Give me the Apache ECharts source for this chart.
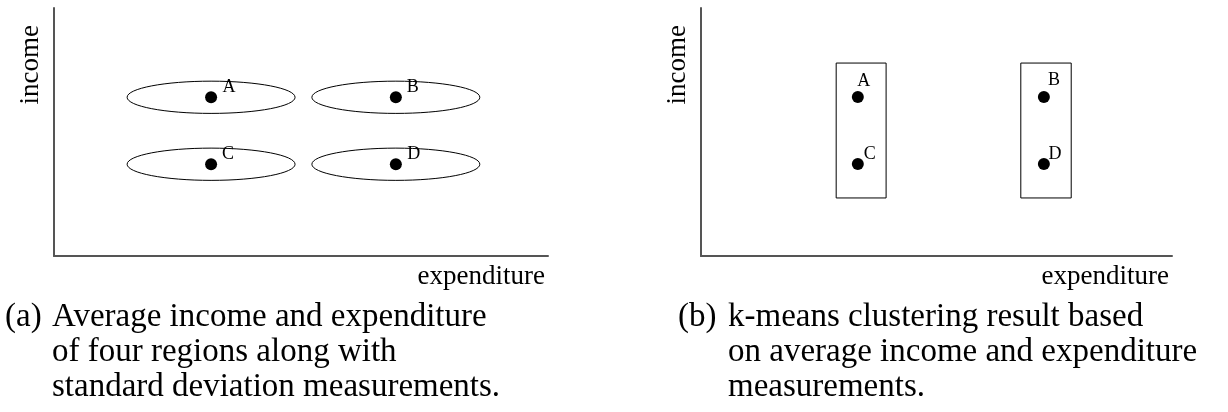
<!DOCTYPE html>
<html>
<head>
<meta charset="utf-8">
<style>
  html, body { margin: 0; padding: 0; background: #fff; }
  #chart { width: 1228px; height: 412px; }
</style>
<script src="https://cdn.jsdelivr.net/npm/echarts@6/dist/echarts.min.js"></script>
</head>
<body>
<div id="chart"></div>
<script>
// ---- data ----
const regionNames = ['A', 'B', 'C', 'D'];
// panel (a): average expenditure / income of each region
const expenditureA = [3.18, 6.92, 3.18, 6.92];
const incomeA      = [6.40, 6.40, 3.70, 3.70];
// standard deviation (semi-axes of ellipses) for expenditure / income
const sdExpenditure = [1.70, 1.70, 1.70, 1.70];
const sdIncome      = [0.65, 0.65, 0.65, 0.65];
// panel (b): same regions
const expenditureB = [3.33, 7.28, 3.33, 7.28];
const incomeB      = [6.41, 6.41, 3.71, 3.71];
// k-means clusters: [expMin, expMax, incMin, incMax]
const clusterNames = ['cluster 1', 'cluster 2'];
const clusterExpMin = [2.87, 6.79];
const clusterExpMax = [3.93, 7.86];
const clusterIncMin = [2.34, 2.34];
const clusterIncMax = [7.78, 7.78];
// axis texts
const xAxisName = 'expenditure';
const yAxisName = 'income';
const axisMin = 0, axisMax = 10;
// captions
const captionA = ['(a)', 'Average income and expenditure', 'of four regions along with', 'standard deviation measurements.'];
const captionB = ['(b)', 'k-means clustering result based', 'on average income and expenditure', 'measurements.'];

// ---- styles ----
const serif = "'Liberation Serif', 'Times New Roman', serif";
const axisColor = '#555';
const labelOffsetsA = [[18, -10], [17, -10], [17, -10], [18, -10]];
const labelOffsetsB = [[6, -16], [10, -17], [12, -10], [11, -10]];

function makeAxis(type, gridIndex) {
  const isX = type === 'x';
  return {
    type: 'value', gridIndex, min: axisMin, max: axisMax,
    name: isX ? xAxisName : yAxisName,
    nameLocation: 'end',
    nameGap: isX ? -3 : -17,
    nameRotate: isX ? 0 : 90,
    nameTextStyle: isX
      ? { fontFamily: serif, fontSize: 27, color: '#000', align: 'right', verticalAlign: 'top', padding: [7, 0, 0, 0] }
      : { fontFamily: serif, fontSize: 27, color: '#000', align: 'right', verticalAlign: 'bottom', padding: [0, 0, 10, 0] },
    axisLine: { show: true, onZero: false, lineStyle: { color: axisColor, width: 2 } },
    axisTick: { show: false },
    axisLabel: { show: false },
    splitLine: { show: false }
  };
}

function pointData(xs, ys, offsets) {
  return regionNames.map((n, i) => ({
    name: n,
    value: [xs[i], ys[i]],
    label: { offset: offsets[i] }
  }));
}

const pointLabel = {
  show: true, position: 'inside', formatter: '{b}',
  fontFamily: serif, fontSize: 18, color: '#000'
};

const option = {
  animation: false,
  backgroundColor: '#fff',
  grid: [
    { left: 54, top: 8, width: 494, height: 248 },
    { left: 701, top: 8, width: 471, height: 248 }
  ],
  xAxis: [makeAxis('x', 0), makeAxis('x', 1)],
  yAxis: [makeAxis('y', 0), makeAxis('y', 1)],
  series: [
    {
      type: 'custom', xAxisIndex: 0, yAxisIndex: 0,
      data: regionNames.map((n, i) => [expenditureA[i], incomeA[i], sdExpenditure[i], sdIncome[i]]),
      renderItem: function (params, api) {
        const c = api.coord([api.value(0), api.value(1)]);
        const s = api.size([api.value(2), api.value(3)]);
        return {
          type: 'ellipse',
          shape: { cx: c[0], cy: c[1], rx: s[0], ry: s[1] },
          style: { fill: 'none', stroke: '#000', lineWidth: 1 }
        };
      },
      silent: true
    },
    {
      type: 'custom', xAxisIndex: 1, yAxisIndex: 1,
      data: clusterNames.map((n, i) => [clusterExpMin[i], clusterExpMax[i], clusterIncMin[i], clusterIncMax[i]]),
      renderItem: function (params, api) {
        const p0 = api.coord([api.value(0), api.value(3)]);
        const p1 = api.coord([api.value(1), api.value(2)]);
        return {
          type: 'rect',
          shape: { x: p0[0], y: p0[1], width: p1[0] - p0[0], height: p1[1] - p0[1] },
          style: { fill: 'none', stroke: '#000', lineWidth: 1 }
        };
      },
      silent: true
    },
    {
      type: 'scatter', xAxisIndex: 0, yAxisIndex: 0,
      symbol: 'circle', symbolSize: 12,
      itemStyle: { color: '#000', opacity: 1 },
      label: pointLabel,
      data: pointData(expenditureA, incomeA, labelOffsetsA)
    },
    {
      type: 'scatter', xAxisIndex: 1, yAxisIndex: 1,
      symbol: 'circle', symbolSize: 12,
      itemStyle: { color: '#000', opacity: 1 },
      label: pointLabel,
      data: pointData(expenditureB, incomeB, labelOffsetsB)
    }
  ],
  graphic: []
};

function captionGraphics(lines, xLabel, xText) {
  const capStyle = { fontFamily: serif, fontSize: 33, fill: '#000' };
  const ys = [319, 354, 389];
  const g = [{ type: 'text', left: xLabel, top: ys[0] - 18, style: Object.assign({ text: lines[0] }, capStyle) }];
  for (let i = 1; i < lines.length; i++) {
    g.push({ type: 'text', left: xText, top: ys[i - 1] - 18, style: Object.assign({ text: lines[i] }, capStyle) });
  }
  return g;
}
option.graphic = captionGraphics(captionA, 5, 52).concat(captionGraphics(captionB, 678, 728));

const chart = echarts.init(document.getElementById('chart'), null, { renderer: 'canvas' });
chart.setOption(option);
</script>
</body>
</html>
